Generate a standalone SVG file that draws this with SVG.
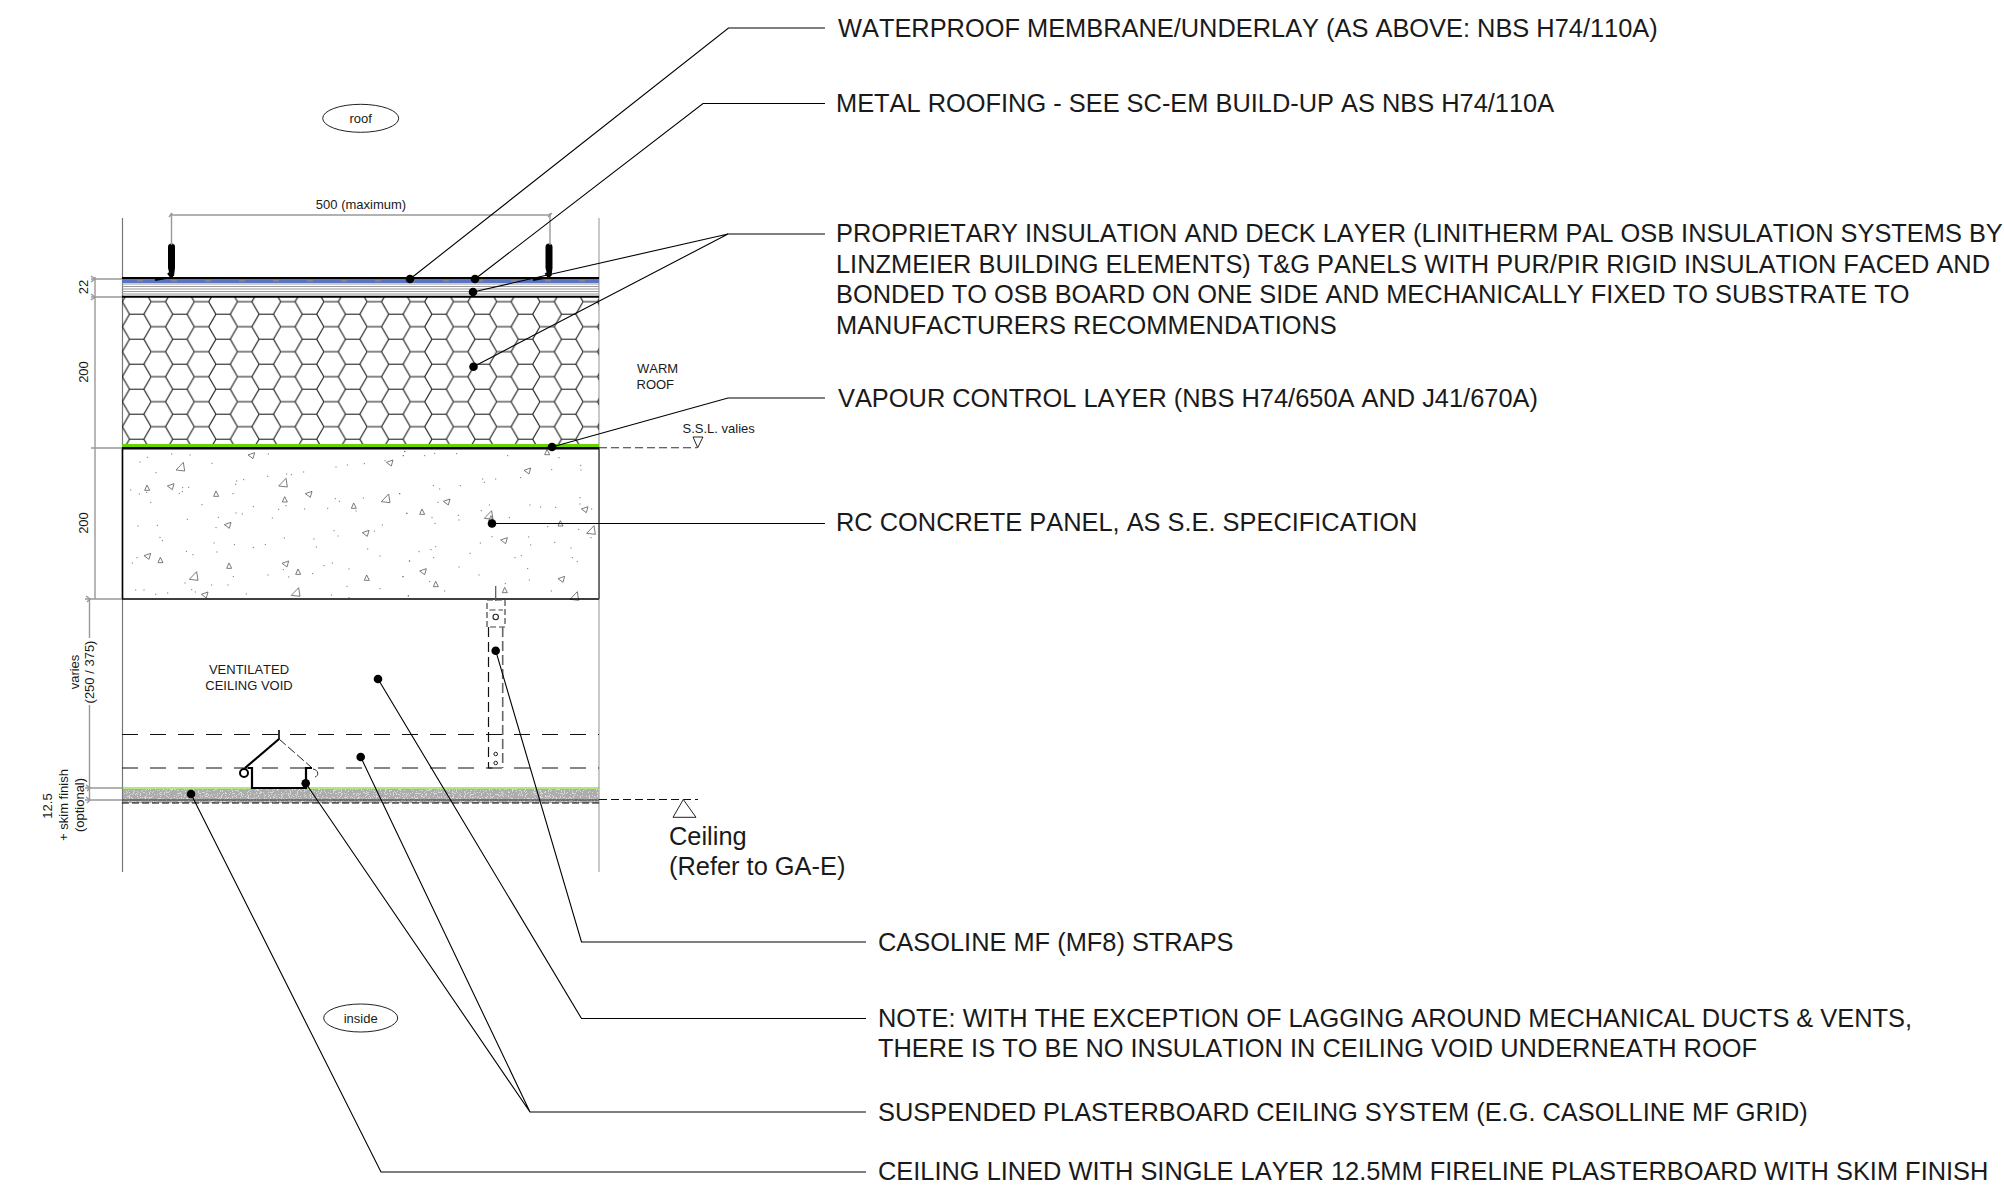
<svg xmlns="http://www.w3.org/2000/svg" width="2004" height="1192" viewBox="0 0 2004 1192">
<style>
text{font-family:"Liberation Sans",Arial,sans-serif;fill:#1a1a1a;font-kerning:none}
.lab{font-size:25.4px}
.sm{font-size:13px}
.mid{text-anchor:middle}
.lead{fill:none;stroke:#000;stroke-width:1.1}
.dot{fill:#000}
.dim{fill:none;stroke:#999;stroke-width:1.4}
.dash{fill:none;stroke:#111;stroke-width:1.1;stroke-dasharray:16 12}
.heavy{fill:none;stroke:#000;stroke-width:2.2}
.tri{fill:none;stroke:#666;stroke-width:2.6}
.spk{fill:none;stroke:#666;stroke-width:3;stroke-linecap:square}
</style>
<defs>
<pattern id="hex" patternUnits="userSpaceOnUse" x="151.1" y="295.7" width="43.2" height="25">
<path d="M0 6H14.4L21.6 18.5H36L43.2 6M36 18.5L43.2 31M36 -6.5L43.2 6M21.6 18.5L14.4 31M21.6 -6.5L14.4 6" fill="none" stroke="#111" stroke-width="1.1"/>
</pattern>
<filter id="grit" x="0" y="0" width="100%" height="100%">
<feTurbulence type="fractalNoise" baseFrequency="0.75" numOctaves="2" seed="4"/>
<feColorMatrix type="matrix" values="0 0 0 0 0.42 0 0 0 0 0.42 0 0 0 0 0.42 2 0 0 0 -0.4"/>
<feComponentTransfer><feFuncA type="discrete" tableValues="0 0 1 1 1"/></feComponentTransfer>
</filter>
<path id="A" d="M-12 10l22-23 4 26z"/>
<path id="a" d="M-9 8l7-16 8 16z"/>
<path id="b" d="M-11 -2l20-7-5 18z"/>
</defs>

<g id="walls">
<path d="M122.5 218V872" fill="none" stroke="#777" stroke-width="1.2"/>
<path d="M599 218V872" fill="none" stroke="#bbb" stroke-width="1.6"/>
</g>

<g id="insulation-layer">
<rect x="122" y="297" width="477" height="148" fill="url(#hex)"/>
</g>

<g id="roof-build-up">
<rect x="122" y="279" width="477" height="4" fill="#5b74c2"/>
<path d="M137 280.8H599" fill="none" stroke="#888" stroke-width="2" stroke-dasharray="6 28"/>
<path d="M122 284H599M122 286.5H599M122 289H599M122 291.5H599M122 294H599" fill="none" stroke="#999" stroke-width="1.1"/>
<path d="M122 278H599M122 296.7H599" fill="none" stroke="#000" stroke-width="2"/>
</g>

<g id="clips">
<path d="M168 247Q168 243.500 171.500 243.500Q175 243.500 175 247V268L174 276H170L168 268Z" fill="#000"/>
<path d="M172 270V279M168 273L172 278M155 280L166 278H196" class="heavy"/>
<path d="M545.500 247Q545.500 243.500 549 243.500Q552.500 243.500 552.500 247V268L551.500 276H547.500L545.500 268Z" fill="#000"/>
<path d="M549.500 270V279M545.500 273L549.500 278M533 280L544 278H573" class="heavy"/>
</g>

<g id="vapour-layer">
<rect x="122" y="444" width="477" height="3.2" fill="#66d400"/>
</g>

<g id="concrete-panel">
<rect x="122.5" y="448" width="476.5" height="151" fill="#fff"/>
<g transform="translate(110 440) scale(.33333)">
<g class="tri">
<use href="#A" x="210" y="80"/><use href="#A" x="518" y="128"/><use href="#A" x="826" y="175"/><use href="#A" x="250" y="408"/><use href="#A" x="556" y="456"/>
<use href="#a" x="113" y="143"/><use href="#a" x="320" y="161"/><use href="#a" x="526" y="178"/><use href="#a" x="733" y="197"/><use href="#a" x="153" y="360"/><use href="#a" x="359" y="377"/><use href="#a" x="566" y="395"/><use href="#a" x="772" y="413"/>
<use href="#b" x="425" y="47"/><use href="#b" x="183" y="140"/><use href="#b" x="597" y="163"/><use href="#b" x="840" y="69"/><use href="#b" x="354" y="256"/><use href="#b" x="768" y="280"/><use href="#b" x="113" y="349"/><use href="#b" x="527" y="372"/><use href="#b" x="285" y="465"/>
</g>
<path class="spk" d="M112 52h.1M90 66h.1M185 42h.1M240 45h.1M306 70h.1M138 98h.1M62 150h.1M88 162h.1M110 157h.1M122 187h.1M208 160h.1M217 155h.1M218 143h.1M236 142h.1M380 123h.1M377 133h.1M401 119h.1M473 109h.1M475 42h.1M530 102h.1M544 104h.1M581 96h.1M678 81h.1M712 75h.1M763 71h.1M884 34h.1M880 47h.1M825 62h.1M369 161h.1M276 194h.1M430 200h.1M506 208h.1M528 197h.1M584 207h.1M653 205h.1M676 176h.1M688 184h.1M760 174h.1M738 213h.1M869 161h.1M890 220h.1M232 238h.1M325 232h.1M378 219h.1M397 222h.1M487 234h.1M84 258h.1M142 256h.1M318 263h.1M150 292h.1M157 302h.1M312 309h.1M373 314h.1M430 322h.1M466 314h.1M523 294h.1M612 297h.1M619 321h.1M672 272h.1M684 288h.1M793 273h.1M817 255h.1M773 327h.1M810 348h.1M898 363h.1M229 334h.1M249 344h.1M321 336h.1M81 353h.1M67 369h.1M225 429h.1M305 435h.1M370 410h.1M354 435h.1M474 405h.1M520 389h.1M536 411h.1M608 401h.1M642 377h.1M667 369h.1M717 387h.1M879 410h.1M711 439h.1M810 446h.1M77 450h.1M102 450h.1M137 463h.1M173 459h.1M245 449h.1M256 456h.1M409 462h.1M664 465h.1M717 473h.1M895 468h.1"/>
</g>
<g transform="translate(390 440) scale(.33333)">
<g class="tri">
<use href="#A" x="295" y="225"/><use href="#A" x="602" y="270"/><use href="#A" x="552" y="468"/>
<use href="#a" x="98" y="215"/><use href="#a" x="305" y="235"/><use href="#a" x="513" y="250"/><use href="#a" x="139" y="432"/><use href="#a" x="346" y="450"/><use href="#a" x="473" y="36"/>
<use href="#b" x="413" y="93"/><use href="#b" x="171" y="186"/><use href="#b" x="585" y="209"/><use href="#b" x="343" y="302"/><use href="#b" x="100" y="395"/><use href="#b" x="515" y="418"/>
</g>
<path class="spk" d="M45 35h.1M40 47h.1M104 47h.1M134 40h.1M200 41h.1M353 47h.1M507 53h.1M572 76h.1M573 90h.1M485 89h.1M392 113h.1M278 117h.1M283 127h.1M317 117h.1M130 137h.1M149 147h.1M29 161h.1M211 137h.1M144 187h.1M298 195h.1M274 212h.1M51 220h.1M126 233h.1M135 250h.1M205 226h.1M207 240h.1M358 233h.1M420 195h.1M452 201h.1M497 202h.1M570 173h.1M570 192h.1M605 207h.1M473 260h.1M566 268h.1M603 293h.1M306 290h.1M271 309h.1M416 291h.1M422 315h.1M494 307h.1M137 320h.1M123 329h.1M87 335h.1M131 353h.1M240 340h.1M375 353h.1M394 347h.1M59 363h.1M543 324h.1M547 353h.1M562 365h.1M207 381h.1M413 386h.1M267 405h.1M418 420h.1M39 410h.1M119 425h.1M164 453h.1M346 430h.1M484 453h.1M55 467h.1"/>
</g>
<path d="M122.5 448V599M122 599H599" fill="none" stroke="#000" stroke-width="1.6"/>
<path d="M599 448V599" fill="none" stroke="#555" stroke-width="1.6"/>
<path d="M122 448.200H599" fill="none" stroke="#000" stroke-width="2.4"/>
</g>

<g id="ceiling-lining">
<rect x="123" y="789" width="476" height="14" fill="#d8d8d8"/>
<rect x="123" y="789" width="476" height="14" filter="url(#grit)"/>
<path d="M122 788H599" fill="none" stroke="#66d400" stroke-width="1.2"/>
<path d="M122 800H599" fill="none" stroke="#333" stroke-width="1"/>
<path d="M122 803H599" fill="none" stroke="#000" stroke-width="1.2" stroke-dasharray="7 3"/>
</g>

<g id="void-lines">
<path d="M122 734.500H599M122 768H599" class="dash"/>
</g>

<g id="straps">
<path d="M495.700 586V601" fill="none" stroke="#555" stroke-width="1.2"/>
<path d="M487 627V600H505V627H487M489.500 610H503" fill="none" stroke="#444" stroke-width="1.2" stroke-dasharray="6 3"/>
<circle cx="495.700" cy="617" r="2.700" fill="none" stroke="#222" stroke-width="1.100"/>
<path d="M488.500 627V768H496" fill="none" stroke="#111" stroke-width="1.200" stroke-dasharray="10 5"/>
<path d="M502.700 627V768" fill="none" stroke="#666" stroke-width="1.600" stroke-dasharray="10 4"/>
<circle cx="495.700" cy="754" r="1.800" fill="none" stroke="#222"/>
<circle cx="495.700" cy="763" r="1.800" fill="none" stroke="#222"/>
</g>

<g id="ceiling-hanger">
<path d="M279 730V739" fill="none" stroke="#000" stroke-width="1.600"/>
<path d="M279 739L245 768" class="heavy"/>
<path d="M279 739L311 767" fill="none" stroke="#222" stroke-width="1" stroke-dasharray="9 3"/>
<circle cx="244" cy="773" r="4" fill="#fff" stroke="#000" stroke-width="2"/>
<path d="M248 768H252L252 788H306V768H312M306 768V775" class="heavy"/>
<path d="M313 769C319 770 319 776 315 777" fill="none" stroke="#333" stroke-width="1"/>
</g>

<g id="dimensions">
<path d="M95 277V599M91 279H122M91 297H122M91 448H122" class="dim"/>
<path d="M91 276L95 279L91 282M91 294L95 297L91 300" class="dim"/>
<path d="M85 599H122M89.500 599V638M89.500 705V800M85 788H122M85 800H122" class="dim"/>
<path d="M86 596L90 599L87 602M86 785L90 788L87 791M86 797L90 800L87 803" class="dim"/>
<path d="M171.500 213V245M550 213V245M171.500 215H550" class="dim"/>
<path d="M169 217L172 213M548 217L552 213" class="dim"/>
<text class="sm mid" x="361" y="209">500 (maximum)</text>
<text class="sm mid" transform="rotate(-90 88 287)" x="88" y="287">22</text>
<text class="sm mid" transform="rotate(-90 88 372)" x="88" y="372">200</text>
<text class="sm mid" transform="rotate(-90 88 523)" x="88" y="523">200</text>
<text class="sm mid" transform="rotate(-90 79 672)" x="79" y="672">varies</text>
<text class="sm mid" transform="rotate(-90 94 672)" x="94" y="672">(250 / 375)</text>
<text class="sm mid" transform="rotate(-90 52 806)" x="52" y="806">12.5</text>
<text class="sm mid" transform="rotate(-90 68 805)" x="68" y="805">+ skim finish</text>
<text class="sm mid" transform="rotate(-90 84 805)" x="84" y="805">(optional)</text>
</g>

<g id="level-ssl">
<path d="M599 447.700H697" fill="none" stroke="#333" stroke-width="1.100" stroke-dasharray="8 4"/>
<path d="M693 437H703L697.700 447.700Z" fill="#fff" stroke="#222" stroke-width="1"/>
<text class="sm" x="682.500" y="433">S.S.L. valies</text>
</g>

<g id="level-ceiling">
<path d="M599 799.500H698" fill="none" stroke="#111" stroke-width="1" stroke-dasharray="8 4"/>
<path d="M683.300 799.500L696 817.300H673Z" fill="#fff" stroke="#222" stroke-width="1"/>
<text class="lab" x="669" y="845">Ceiling</text>
<text class="lab" x="669" y="875">(Refer to GA-E)</text>
</g>

<g id="roof-tag">
<ellipse cx="360.700" cy="118.300" rx="38" ry="14" fill="#fff" stroke="#222" stroke-width="1"/>
<text class="sm mid" x="360.700" y="123">roof</text>
</g>
<g id="inside-tag">
<ellipse cx="360.700" cy="1018" rx="37" ry="14" fill="#fff" stroke="#222" stroke-width="1"/>
<text class="sm mid" x="360.700" y="1022.500">inside</text>
</g>
<g id="warm-roof-note">
<text class="sm" x="637" y="373">WARM</text>
<text class="sm" x="636.500" y="389">ROOF</text>
</g>
<g id="void-note">
<text class="sm mid" x="249" y="674">VENTILATED</text>
<text class="sm mid" x="249" y="690">CEILING VOID</text>
</g>

<g id="connectors">
<path class="lead" d="M410 279L728.500 28H825"/>
<path class="lead" d="M475 279L703 103.500H825"/>
<path class="lead" d="M473 292L728 234H825M473.500 366.700L728 234"/>
<path class="lead" d="M552 447L728 398H825"/>
<path class="lead" d="M492 523.500H825"/>
<path class="lead" d="M495.700 650.700L581.500 942H866"/>
<path class="lead" d="M378 679L581.500 1018.500H866"/>
<path class="lead" d="M305.700 783.300L530 1112H866M360.700 757L530 1112"/>
<path class="lead" d="M191 794L381 1172H866"/>
<g class="dot">
<circle cx="410" cy="279" r="4.300"/><circle cx="475" cy="279" r="4.300"/><circle cx="473" cy="292" r="4.300"/><circle cx="473.500" cy="366.700" r="4.300"/><circle cx="552" cy="447" r="4.300"/><circle cx="492" cy="523.500" r="4.300"/><circle cx="495.700" cy="650.700" r="4.300"/><circle cx="378" cy="679" r="4.300"/><circle cx="305.700" cy="783.300" r="4.300"/><circle cx="360.700" cy="757" r="4.300"/><circle cx="191" cy="794" r="4.300"/>
</g>
</g>

<g id="label-waterproof"><text class="lab" x="838" y="37">WATERPROOF MEMBRANE/UNDERLAY (AS ABOVE: NBS H74/110A)</text></g>
<g id="label-metal"><text class="lab" x="836" y="112">METAL ROOFING - SEE SC-EM BUILD-UP AS NBS H74/110A</text></g>
<g id="label-insulation">
<text class="lab" x="836" y="242">PROPRIETARY INSULATION AND DECK LAYER (LINITHERM PAL OSB INSULATION SYSTEMS BY</text>
<text class="lab" x="836" y="272.500">LINZMEIER BUILDING ELEMENTS) T&amp;G PANELS WITH PUR/PIR RIGID INSULATION FACED AND</text>
<text class="lab" x="836" y="303">BONDED TO OSB BOARD ON ONE SIDE AND MECHANICALLY FIXED TO SUBSTRATE TO</text>
<text class="lab" x="836" y="333.500">MANUFACTURERS RECOMMENDATIONS</text>
</g>
<g id="label-vapour"><text class="lab" x="838" y="407">VAPOUR CONTROL LAYER (NBS H74/650A AND J41/670A)</text></g>
<g id="label-concrete"><text class="lab" x="836" y="531">RC CONCRETE PANEL, AS S.E. SPECIFICATION</text></g>
<g id="label-straps"><text class="lab" x="878" y="951">CASOLINE MF (MF8) STRAPS</text></g>
<g id="label-note">
<text class="lab" x="878" y="1027">NOTE: WITH THE EXCEPTION OF LAGGING AROUND MECHANICAL DUCTS &amp; VENTS,</text>
<text class="lab" x="878" y="1057">THERE IS TO BE NO INSULATION IN CEILING VOID UNDERNEATH ROOF</text>
</g>
<g id="label-ceiling-system"><text class="lab" x="878" y="1121">SUSPENDED PLASTERBOARD CEILING SYSTEM (E.G. CASOLLINE MF GRID)</text></g>
<g id="label-lining"><text class="lab" x="878" y="1180">CEILING LINED WITH SINGLE LAYER 12.5MM FIRELINE PLASTERBOARD WITH SKIM FINISH</text></g>
</svg>
